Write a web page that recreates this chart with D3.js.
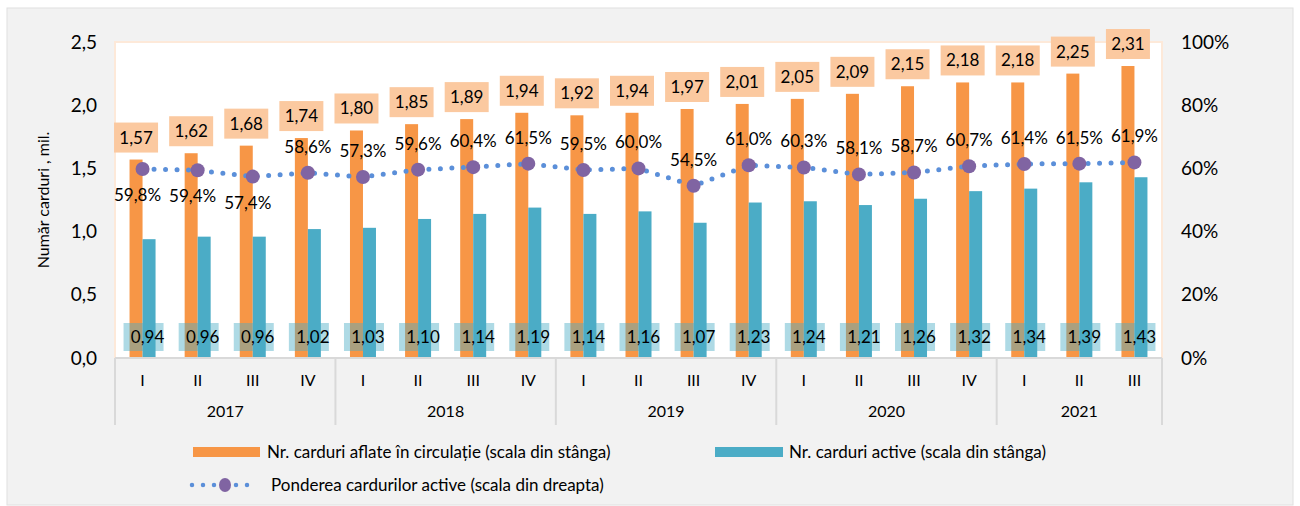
<!DOCTYPE html>
<html>
<head>
<meta charset="utf-8">
<script src="https://cdn.jsdelivr.net/npm/d3@7"></script>
<style>
body { margin: 0; background: #fff; }
svg { font-family: Lato, "Open Sans", sans-serif; }
</style>
</head>
<body>
<svg id="svg" width="1300" height="506"></svg>
<script>
// data
var years = ['2017', '2018', '2019', '2020', '2021'];
var quarters = ['I','II','III','IV','I','II','III','IV','I','II','III','IV','I','II','III','IV','I','II','III'];
var cardsTotal = [1.57,1.62,1.68,1.74,1.80,1.85,1.89,1.94,1.92,1.94,1.97,2.01,2.05,2.09,2.15,2.18,2.18,2.25,2.31];
var cardsActive = [0.94,0.96,0.96,1.02,1.03,1.10,1.14,1.19,1.14,1.16,1.07,1.23,1.24,1.21,1.26,1.32,1.34,1.39,1.43];
var activeShare = [59.8,59.4,57.4,58.6,57.3,59.6,60.4,61.5,59.5,60.0,54.5,61.0,60.3,58.1,58.7,60.7,61.4,61.5,61.9];
var leftTicks = [0, 0.5, 1.0, 1.5, 2.0, 2.5];
var rightTicks = [0, 20, 40, 60, 80, 100];

var svg = d3.select('svg');
var fmt = function(v, d){ return v.toFixed(d).replace('.', ','); };

var plotL = 115, plotR = 1162, plotT = 42, plotB = 358;

// background panel
svg.append('rect')
    .attr('x', 7).attr('y', 8).attr('width', 1286).attr('height', 497)
    .attr('fill', '#f2f2f2').attr('stroke', '#e0e0e0');

svg.append('rect')
    .attr('x', plotL).attr('y', plotT).attr('width', plotR - plotL).attr('height', plotB - plotT)
    .attr('fill', '#fff').attr('stroke', '#fde9d9').attr('stroke-width', 2);

var idx = d3.range(quarters.length);
var x = d3.scaleBand().domain(idx).range([plotL, plotR]);
var y = d3.scaleLinear().domain([0, 2.5]).range([plotB, plotT]);
var y2 = d3.scaleLinear().domain([0, 100]).range([plotB, plotT]);
var bw = 13;

// axis labels
svg.selectAll('.lt').data(leftTicks).enter().append('text')
    .attr('x', 97).attr('y', function(d){ return y(d); })
    .attr('dy', '0.35em').attr('text-anchor', 'end')
    .attr('font-size', 19).attr('fill', '#000')
    .text(function(d){ return fmt(d, 1); });

svg.selectAll('.rt').data(rightTicks).enter().append('text')
    .attr('x', 1181).attr('y', function(d){ return y2(d); })
    .attr('dy', '0.35em').attr('text-anchor', 'start')
    .attr('font-size', 19).attr('fill', '#000')
    .text(function(d){ return d + '%'; });

svg.append('text')
    .attr('transform', 'translate(49,200) rotate(-90)')
    .attr('text-anchor', 'middle').attr('font-size', 16)
    .text('Număr carduri , mil.');

// bars
svg.selectAll('.bt').data(cardsTotal).enter().append('rect')
    .attr('x', function(d, i){ return x(i) + x.bandwidth()/2 - bw; })
    .attr('y', function(d){ return y(d); })
    .attr('width', bw).attr('height', function(d){ return plotB - y(d); })
    .attr('fill', '#f79646');

svg.selectAll('.ba').data(cardsActive).enter().append('rect')
    .attr('x', function(d, i){ return x(i) + x.bandwidth()/2; })
    .attr('y', function(d){ return y(d); })
    .attr('width', bw).attr('height', function(d){ return plotB - y(d); })
    .attr('fill', '#4bacc6');

// total labels
var tl = svg.selectAll('.tl').data(cardsTotal).enter().append('g')
    .attr('transform', function(d, i){
        return 'translate(' + (x(i) + x.bandwidth()/2 - bw/2) + ',' + (y(d) - 22) + ')';
    });
tl.append('rect').attr('x', -22).attr('y', -15).attr('width', 44).attr('height', 30)
    .attr('fill', '#fbc9a0');
tl.append('text').attr('text-anchor', 'middle').attr('dy', '0.35em')
    .attr('font-size', 17).text(function(d){ return fmt(d, 2); });

// active labels
var al = svg.selectAll('.al').data(cardsActive).enter().append('g')
    .attr('transform', function(d, i){
        return 'translate(' + (x(i) + x.bandwidth()/2 + 1) + ',337)';
    });
al.append('rect').attr('x', -20).attr('y', -14).attr('width', 40).attr('height', 28)
    .attr('fill', '#4bacc6').attr('opacity', 0.45);
al.append('text').attr('x', 4).attr('text-anchor', 'middle').attr('dy', '0.35em')
    .attr('font-size', 17).text(function(d){ return fmt(d, 2); });

// share line
var line = d3.line()
    .x(function(d, i){ return x(i) + x.bandwidth()/2; })
    .y(function(d){ return y2(d); });

svg.append('path').datum(activeShare)
    .attr('d', line).attr('fill', 'none')
    .attr('stroke', '#5b8fd9').attr('stroke-width', 5)
    .attr('stroke-linecap', 'round').attr('stroke-dasharray', '0 11.5');

svg.selectAll('.pt').data(activeShare).enter().append('circle')
    .attr('cx', function(d, i){ return x(i) + x.bandwidth()/2; })
    .attr('cy', function(d){ return y2(d); })
    .attr('r', 7).attr('fill', '#8064a2');

svg.selectAll('.pl').data(activeShare).enter().append('text')
    .attr('x', function(d, i){ return x(i) + x.bandwidth()/2 + (i < 3 ? -5 : 0); })
    .attr('y', function(d, i){ return y2(d) + (i < 3 ? 26 : -26); })
    .attr('dy', '0.35em').attr('text-anchor', 'middle')
    .attr('font-size', 17).text(function(d){ return fmt(d, 1) + '%'; });

// x axis
svg.append('line').attr('x1', plotL).attr('x2', plotR).attr('y1', plotB).attr('y2', plotB)
    .attr('stroke', '#d9d9d9').attr('stroke-width', 2);

var yearStart = [0, 4, 8, 12, 16];
var yearEnd = [4, 8, 12, 16, 19];
var seps = yearStart.map(function(s){ return x(s); }).concat([plotR]);
svg.selectAll('.sep').data(seps).enter().append('line')
    .attr('x1', function(d){ return d; }).attr('x2', function(d){ return d; })
    .attr('y1', plotB).attr('y2', 425)
    .attr('stroke', '#d9d9d9').attr('stroke-width', 2);

svg.selectAll('.q').data(quarters).enter().append('text')
    .attr('x', function(d, i){ return x(i) + x.bandwidth()/2; })
    .attr('y', 380).attr('dy', '0.35em').attr('text-anchor', 'middle')
    .attr('font-size', 16).text(function(d){ return d; });

svg.selectAll('.yr').data(years).enter().append('text')
    .attr('x', function(d, i){ return (x(yearStart[i]) + (yearEnd[i] < 19 ? x(yearEnd[i]) : plotR)) / 2; })
    .attr('y', 411).attr('dy', '0.35em').attr('text-anchor', 'middle')
    .attr('font-size', 16).text(function(d){ return d; });

// legend
svg.append('rect').attr('x', 193).attr('y', 447).attr('width', 67).attr('height', 10).attr('fill', '#f79646');
svg.append('text').attr('x', 267).attr('y', 452).attr('dy', '0.35em').attr('font-size', 17)
    .text('Nr. carduri aflate în circulație (scala din stânga)');
svg.append('rect').attr('x', 715).attr('y', 447).attr('width', 68).attr('height', 10).attr('fill', '#4bacc6');
svg.append('text').attr('x', 789).attr('y', 452).attr('dy', '0.35em').attr('font-size', 17)
    .text('Nr. carduri active (scala din stânga)');
svg.append('line').attr('x1', 192).attr('x2', 258).attr('y1', 485).attr('y2', 485)
    .attr('stroke', '#5b8fd9').attr('stroke-width', 4.5)
    .attr('stroke-linecap', 'round').attr('stroke-dasharray', '0 11');
svg.append('ellipse').attr('cx', 225).attr('cy', 485).attr('rx', 6).attr('ry', 7).attr('fill', '#8064a2');
svg.append('text').attr('x', 271).attr('y', 485).attr('dy', '0.35em').attr('font-size', 17)
    .text('Ponderea cardurilor active (scala din dreapta)');
</script>
</body>
</html>
